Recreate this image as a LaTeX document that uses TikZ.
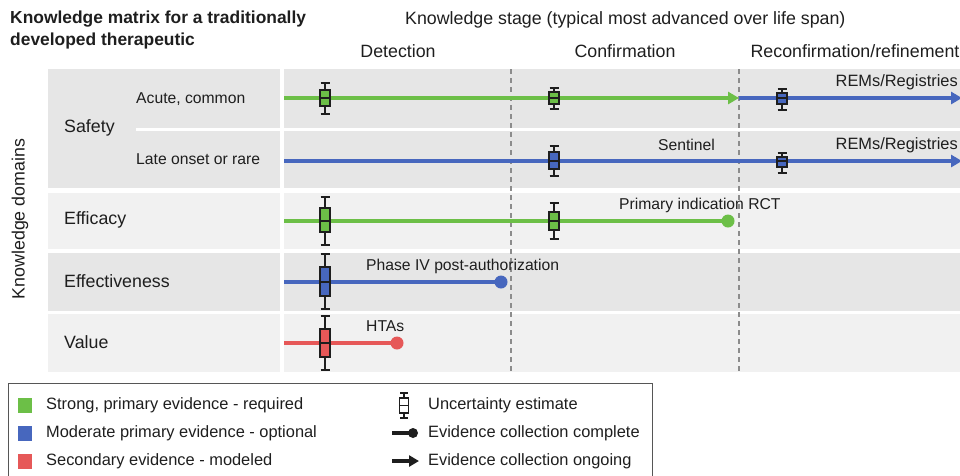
\documentclass[tikz,border=0pt]{standalone}
\usepackage{fontspec}
\setmainfont{Liberation Sans}
\usetikzlibrary{positioning,arrows.meta,calc}
\definecolor{strong}{HTML}{6CBF47}
\definecolor{moderate}{HTML}{4767BE}
\definecolor{secondary}{HTML}{E65858}
\definecolor{shadeA}{HTML}{E6E6E6}
\definecolor{shadeB}{HTML}{F1F1F1}
\definecolor{ink}{HTML}{1E1E1E}
\definecolor{divider}{HTML}{8C8C8C}

\begin{document}
\begin{tikzpicture}[x=1pt,y=-1pt,
    lbl/.style={font=\fontsize{15.7}{18}\selectfont,text=ink,inner sep=0pt},
    head/.style={font=\fontsize{17.8}{21}\selectfont,text=ink,inner sep=0pt},
    keytext/.style={font=\fontsize{16.4}{19}\selectfont,text=ink,inner sep=0pt,anchor=west},
    track/.style={line width=4pt},
    ongoing/.style={track,-{Triangle[length=11pt,width=12pt]}},
    enddot/.style={circle,inner sep=0pt,minimum size=13pt},
    swatch/.style={minimum width=14pt,minimum height=15pt,inner sep=0pt}]
      \useasboundingbox (0,0) rectangle (960,475);

      % panels
      \fill[shadeA] (48,69) rectangle (280,188);
      \draw[white,line width=3pt] (136,129.5) -- (280,129.5);
      \fill[shadeA] (284,69) rectangle (960,128);
      \fill[shadeA] (284,131) rectangle (960,188);
      \fill[shadeB] (48,193) rectangle (280,249);
      \fill[shadeB] (284,193) rectangle (960,249);
      \fill[shadeA] (48,253) rectangle (280,311);
      \fill[shadeA] (284,253) rectangle (960,311);
      \fill[shadeB] (48,314) rectangle (280,372);
      \fill[shadeB] (284,314) rectangle (960,372);

      % stage borders
      \draw[divider,line width=1.6pt,dash pattern=on 5pt off 4pt] (511,69) -- (511,372);
      \draw[divider,line width=1.6pt,dash pattern=on 5pt off 4pt] (739,69) -- (739,372);

      % headings
      \node[head,font=\fontsize{17.4}{22}\selectfont\bfseries,align=left,anchor=north west] (title) at (10,11) {Knowledge matrix for a traditionally\\developed therapeutic};
      \node[head,anchor=west] (stage) at (405,20) {Knowledge stage (typical most advanced over life span)};
      \node[head] (detect) at (398,51) {Detection};
      \node[head] (confirm) at (625,51) {Confirmation};
      \node[head] (reconfirm) at (855,51) {Reconfirmation/refinement};
      \node[head,rotate=90] (domains) at (20,219) {Knowledge domains};

      % domain names
      \node[head,anchor=west] (safety) at (64,128) {Safety};
      \node[lbl,anchor=west] (acute) at (136,99) {Acute, common};
      \node[lbl,anchor=west] (late) at (136,159) {Late onset or rare};
      \node[head,anchor=west] (efficacy) at (64,220) {Efficacy};
      \node[head,anchor=west] (effective) at (64,281) {Effectiveness};
      \node[head,anchor=west] (value) at (64,342) {Value};

      % evidence tracks
      \coordinate (acuteS) at (284,98);
      \coordinate (acuteM) at (739,98);
      \coordinate (acuteE) at (962,98);
      \coordinate (lateS) at (284,161);
      \coordinate (lateE) at (962,161);
      \coordinate (efficacyS) at (284,221);
      \coordinate (effectS) at (284,282);
      \coordinate (valueS) at (284,343);
      \node[enddot,fill=strong] (efficacyE) at (728,221) {};
      \node[enddot,fill=moderate] (effectE) at (501,282) {};
      \node[enddot,fill=secondary] (valueE) at (397,343) {};

      \draw[ongoing,strong] (acuteS) -- (acuteM);
      \draw[ongoing,moderate] (acuteM) -- (acuteE);
      \draw[ongoing,moderate] (lateS) -- (lateE);
      \draw[track,strong] (efficacyS) -- (efficacyE.center);
      \draw[track,moderate] (effectS) -- (effectE.center);
      \draw[track,secondary] (valueS) -- (valueE.center);

      % uncertainty estimates
      \foreach \bx/\by/\wl/\wh/\bl/\bh/\bc in {325/98/83/114/90/106/strong,
          554/98/88/109/92/104/strong, 782/98/89/110/93/104/moderate,
          554/161/146/176/152/169/moderate, 782/161/153/173/157/167/moderate,
          325/221/197/245/208/232/strong, 554/221/203/239/212/230/strong,
          325/282/254/309/267/296/moderate, 325/343/316/370/329/357/secondary} {
        \draw[ink,line width=1.4pt] (\bx,\wl) -- (\bx,\wh);
        \draw[ink,line width=1.4pt] (\bx-4.5,\wl) -- (\bx+4.5,\wl);
        \draw[ink,line width=1.4pt] (\bx-4.5,\wh) -- (\bx+4.5,\wh);
        \draw[ink,line width=1.4pt,fill=\bc] (\bx-5,\bl) rectangle (\bx+5,\bh);
        \draw[ink,line width=1.2pt] (\bx-5,\by) -- (\bx+5,\by);
      }

      % track labels
      \node[lbl,font=\fontsize{16.4}{19}\selectfont,anchor=east] (rems1) at (958,82) {REMs/Registries};
      \node[lbl,font=\fontsize{16.4}{19}\selectfont,anchor=east] (rems2) at (958,145) {REMs/Registries};
      \node[lbl,anchor=east] (sentinel) at (715,145) {Sentinel};
      \node[lbl,anchor=west] (rct) at (619,205) {Primary indication RCT};
      \node[lbl,anchor=west] (phase) at (366,266) {Phase IV post-authorization};
      \node[lbl,anchor=west] (hta) at (366,326) {HTAs};

      % key
      \draw[ink!75,line width=1pt] (8,480) -- (8,383) -- (652,383) -- (652,480);
      \node[swatch,fill=strong] (keyA) at (25,405) {};
      \node[swatch,fill=moderate] (keyB) at (25,433) {};
      \node[swatch,fill=secondary] (keyC) at (25,461) {};
      \node[keytext] at (46,405) {Strong, primary evidence - required};
      \node[keytext] at (46,433) {Moderate primary evidence - optional};
      \node[keytext] at (46,461) {Secondary evidence - modeled};

      \draw[ink,line width=1.3pt] (404,393) -- (404,418);
      \draw[ink,line width=1.3pt] (400,393) -- (408,393);
      \draw[ink,line width=1.3pt] (400,418) -- (408,418);
      \draw[ink,line width=1.3pt,fill=white] (399.5,398) rectangle (408.5,413);
      \draw[ink,line width=1.1pt] (399.5,405.5) -- (408.5,405.5);
      \coordinate (keyLineS) at (392,433);
      \node[enddot,minimum size=10pt,fill=ink] (keyDot) at (413,433) {};
      \draw[ink,line width=4pt] (keyLineS) -- (keyDot.center);
      \coordinate (keyArrS) at (392,461);
      \coordinate (keyArrE) at (419,461);
      \draw[ink,line width=4pt,-{Triangle[length=10pt,width=11pt]}] (keyArrS) -- (keyArrE);
      \node[keytext] at (428,405) {Uncertainty estimate};
      \node[keytext] at (428,433) {Evidence collection complete};
      \node[keytext] at (428,461) {Evidence collection ongoing};
    \end{tikzpicture}
\end{document}
